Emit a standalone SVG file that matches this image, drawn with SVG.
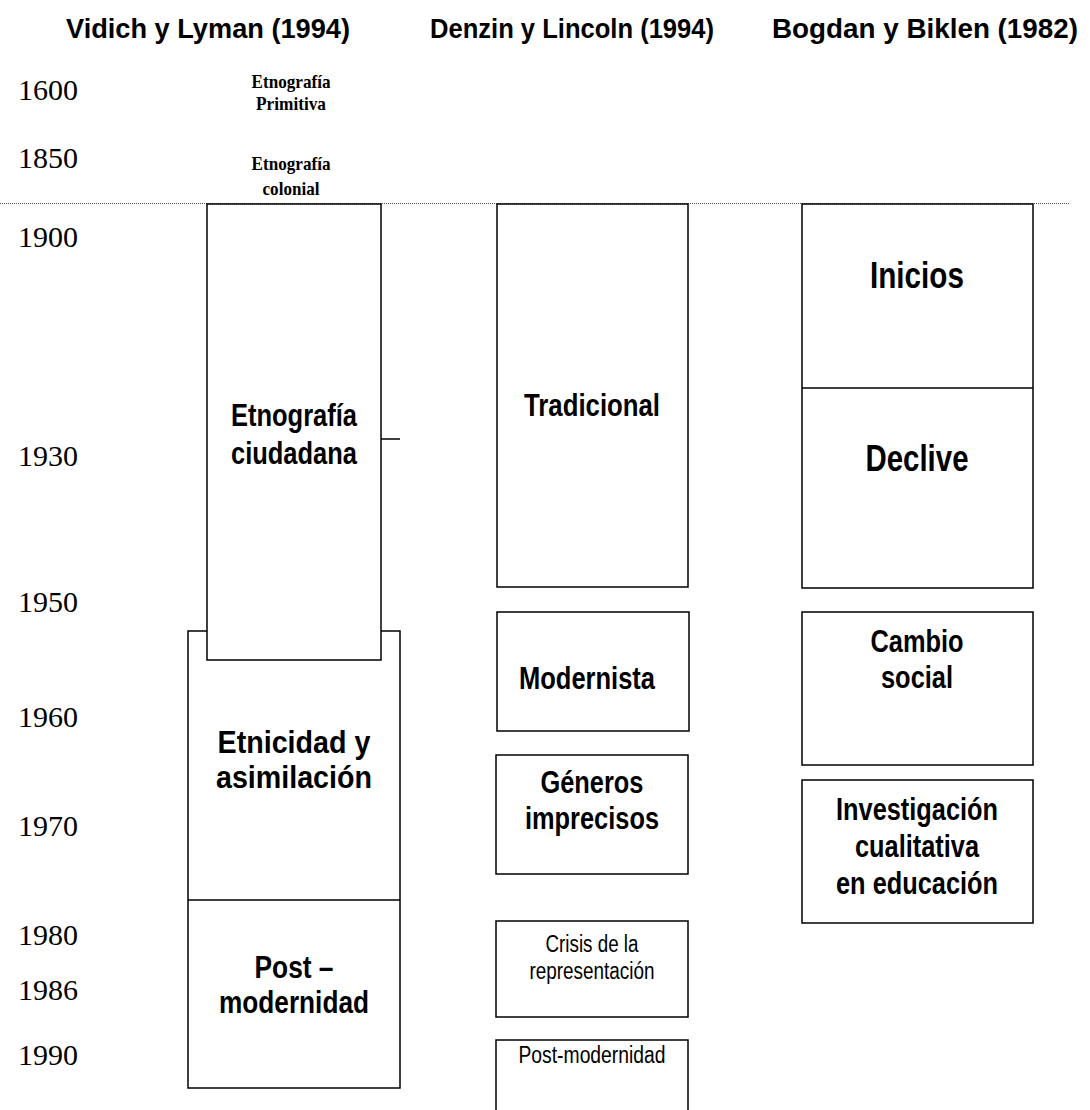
<svg xmlns="http://www.w3.org/2000/svg" width="1090" height="1110" viewBox="0 0 1090 1110">
<style>
.hdr{font-family:"Liberation Sans",Arial,sans-serif;font-weight:bold;font-size:28px;fill:#000;text-anchor:middle}
.yr{font-family:"Liberation Serif","Times New Roman",serif;font-size:30px;fill:#000}
.sm{font-family:"Liberation Serif","Times New Roman",serif;font-weight:bold;font-size:19px;fill:#000;text-anchor:middle}
.b{fill:#fff;stroke:#000;stroke-width:1.5}
.t{font-family:"Liberation Sans",Arial,sans-serif;font-weight:bold;fill:#000;text-anchor:middle}
.r{font-family:"Liberation Sans",Arial,sans-serif;fill:#000;text-anchor:middle}
.ln{stroke:#000;stroke-width:1.5;fill:none}
</style>
<rect width="1090" height="1110" fill="#fff"/>
<g id="headers">
<text class="hdr" x="208" y="38" textLength="284" lengthAdjust="spacingAndGlyphs">Vidich y Lyman (1994)</text>
<text class="hdr" x="572" y="38" textLength="284" lengthAdjust="spacingAndGlyphs">Denzin y Lincoln (1994)</text>
<text class="hdr" x="925" y="38" textLength="306" lengthAdjust="spacingAndGlyphs">Bogdan y Biklen (1982)</text>
</g>
<g id="years">
<text class="yr" x="18" y="100">1600</text>
<text class="yr" x="18" y="168">1850</text>
<text class="yr" x="18" y="247">1900</text>
<text class="yr" x="18" y="466">1930</text>
<text class="yr" x="18" y="612">1950</text>
<text class="yr" x="18" y="727">1960</text>
<text class="yr" x="18" y="836">1970</text>
<text class="yr" x="18" y="945">1980</text>
<text class="yr" x="18" y="1000">1986</text>
<text class="yr" x="18" y="1065">1990</text>
</g>
<g id="early">
<text class="sm" x="291" y="88" textLength="79" lengthAdjust="spacingAndGlyphs">Etnografía</text>
<text class="sm" x="291" y="110" textLength="70" lengthAdjust="spacingAndGlyphs">Primitiva</text>
<text class="sm" x="291" y="170" textLength="79" lengthAdjust="spacingAndGlyphs">Etnografía</text>
<text class="sm" x="291" y="195" textLength="57" lengthAdjust="spacingAndGlyphs">colonial</text>
</g>
<line x1="0" y1="203.5" x2="1070" y2="203.5" stroke="#555" stroke-width="1" stroke-dasharray="1,1"/>
<g id="etnicidad">
<rect class="b" x="188" y="631" width="212" height="457"/>
<line class="ln" x1="188" y1="900" x2="400" y2="900"/>
<text class="t" x="294" y="753" font-size="31" textLength="153" lengthAdjust="spacingAndGlyphs">Etnicidad y</text>
<text class="t" x="294" y="788" font-size="31" textLength="156" lengthAdjust="spacingAndGlyphs">asimilación</text>
</g>
<g id="postmod-vl">
<text class="t" x="294" y="978" font-size="32" textLength="79" lengthAdjust="spacingAndGlyphs">Post –</text>
<text class="t" x="294" y="1013" font-size="32" textLength="150" lengthAdjust="spacingAndGlyphs">modernidad</text>
</g>
<g id="ciudadana">
<rect class="b" x="207" y="204" width="174" height="456"/>
<text class="t" x="294" y="426" font-size="31" textLength="126" lengthAdjust="spacingAndGlyphs">Etnografía</text>
<text class="t" x="294" y="464" font-size="31" textLength="126" lengthAdjust="spacingAndGlyphs">ciudadana</text>
</g>
<g id="connectors">
<line class="ln" x1="381" y1="439" x2="400" y2="439"/>
</g>
<g id="tradicional">
<rect class="b" x="497" y="204" width="191" height="383"/>
<text class="t" x="592" y="416" font-size="31" textLength="136" lengthAdjust="spacingAndGlyphs">Tradicional</text>
</g>
<g id="modernista">
<rect class="b" x="497" y="612" width="192" height="119"/>
<text class="t" x="587" y="689" font-size="31" textLength="136" lengthAdjust="spacingAndGlyphs">Modernista</text>
</g>
<g id="generos">
<rect class="b" x="496" y="755" width="192" height="119"/>
<text class="t" x="592" y="793" font-size="31" textLength="103" lengthAdjust="spacingAndGlyphs">Géneros</text>
<text class="t" x="592" y="829" font-size="31" textLength="134" lengthAdjust="spacingAndGlyphs">imprecisos</text>
</g>
<g id="crisis">
<rect class="b" x="496" y="921" width="192" height="96"/>
<text class="r" x="592" y="952" font-size="23" textLength="93" lengthAdjust="spacingAndGlyphs">Crisis de la</text>
<text class="r" x="592" y="979" font-size="23" textLength="125" lengthAdjust="spacingAndGlyphs">representación</text>
</g>
<g id="postmod-dl">
<path class="ln" d="M496,1112 V1040 H688 V1112"/>
<text class="r" x="592" y="1063" font-size="23.5" textLength="147" lengthAdjust="spacingAndGlyphs">Post-modernidad</text>
</g>
<g id="inicios-declive">
<rect class="b" x="802" y="204" width="231" height="384"/>
<line class="ln" x1="802" y1="388" x2="1033" y2="388"/>
<text class="t" x="917" y="288" font-size="36" textLength="94" lengthAdjust="spacingAndGlyphs">Inicios</text>
<text class="t" x="917" y="471" font-size="36" textLength="103" lengthAdjust="spacingAndGlyphs">Declive</text>
</g>
<g id="cambio">
<rect class="b" x="802" y="612" width="231" height="153"/>
<text class="t" x="917" y="652" font-size="31" textLength="93" lengthAdjust="spacingAndGlyphs">Cambio</text>
<text class="t" x="917" y="688" font-size="31" textLength="72" lengthAdjust="spacingAndGlyphs">social</text>
</g>
<g id="investigacion">
<rect class="b" x="802" y="780" width="231" height="143"/>
<text class="t" x="917" y="820" font-size="31" textLength="162" lengthAdjust="spacingAndGlyphs">Investigación</text>
<text class="t" x="917" y="857" font-size="31" textLength="124" lengthAdjust="spacingAndGlyphs">cualitativa</text>
<text class="t" x="917" y="894" font-size="31" textLength="162" lengthAdjust="spacingAndGlyphs">en educación</text>
</g>
</svg>
